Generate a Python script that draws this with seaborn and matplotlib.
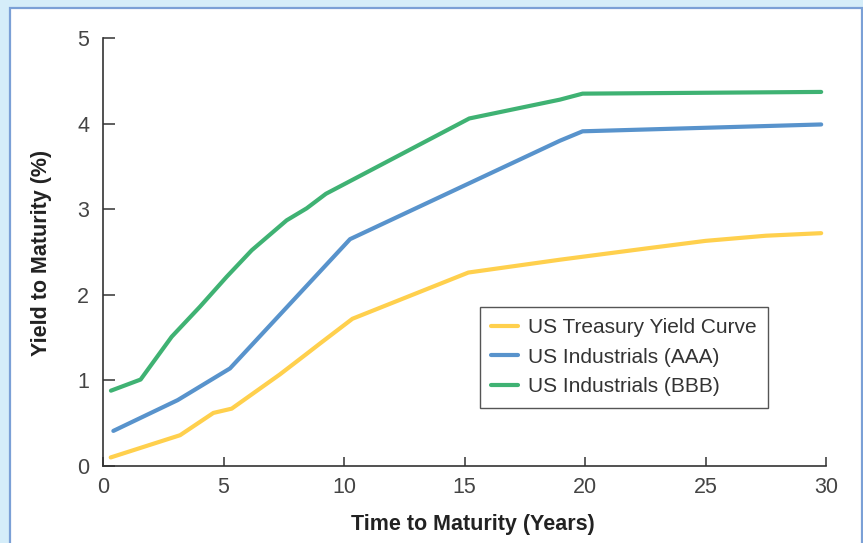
import pandas as pd
import matplotlib.pyplot as plt
import seaborn as sns
from matplotlib.patches import Rectangle

# values
treasury_x = [0.32, 3.2, 4.58, 5.34, 7.34, 8.45, 9.0, 10.35, 15.16, 18.96, 22.5, 25.0, 27.5, 29.8]
treasury_y = [0.10, 0.36, 0.62, 0.67, 1.07, 1.31, 1.43, 1.72, 2.26, 2.41, 2.54, 2.63, 2.69, 2.72]

aaa_x = [0.43, 3.1, 5.27, 10.25, 18.96, 19.9, 29.8]
aaa_y = [0.41, 0.77, 1.14, 2.65, 3.80, 3.91, 3.99]

bbb_x = [0.33, 1.56, 2.85, 4.02, 5.13, 6.17, 7.62, 8.45, 9.25, 15.2, 18.96, 19.9, 29.8]
bbb_y = [0.88, 1.01, 1.51, 1.86, 2.21, 2.52, 2.87, 3.01, 3.18, 4.06, 4.28, 4.35, 4.37]

labels = ['US Treasury Yield Curve', 'US Industrials (AAA)', 'US Industrials (BBB)']
colors = ['#FFD04D', '#5893CC', '#3FB273']

df = pd.concat([
    pd.DataFrame({'years': treasury_x, 'ytm': treasury_y, 'series': labels[0]}),
    pd.DataFrame({'years': aaa_x, 'ytm': aaa_y, 'series': labels[1]}),
    pd.DataFrame({'years': bbb_x, 'ytm': bbb_y, 'series': labels[2]}),
])

sns.set_style('ticks')
plt.rcParams['font.family'] = ['Liberation Sans', 'DejaVu Sans']

fig = plt.figure(figsize=(8.63, 5.43), dpi=100, facecolor='#D5EDF9')
# white panel with blue border, behind everything
fig.patches.append(Rectangle((9.5 / 863, -0.05), 852 / 863, (535.5 / 543) + 0.05,
                             transform=fig.transFigure, facecolor='white',
                             edgecolor='#7BA0D6', linewidth=1.6, zorder=-10))
ax = fig.add_axes([103 / 863, 77 / 543, 723 / 863, 428 / 543])
ax.set_facecolor('none')
ax.set_zorder(5)

sns.lineplot(data=df, x='years', y='ytm', hue='series', hue_order=labels,
             palette=colors, linewidth=3, sort=False, estimator=None, ax=ax)

ax.set_xlim(0, 30)
ax.set_ylim(0, 5)
ax.set_xticks(range(0, 31, 5))
ax.set_yticks(range(0, 6))
sns.despine(ax=ax)
for s in ['left', 'bottom']:
    ax.spines[s].set_color('#333333')
    ax.spines[s].set_linewidth(1.2)
ax.tick_params(axis='y', direction='in', length=8.5, width=1.1, color='#333333',
               labelsize=15.5, labelcolor='#444444', pad=10)
ax.tick_params(axis='x', direction='in', length=6.5, width=1.1, color='#333333',
               labelsize=15.5, labelcolor='#444444', pad=8)

ax.set_xlabel('Time to Maturity (Years)', fontsize=15.5, fontweight='bold', color='#222222')
ax.set_ylabel('Yield to Maturity (%)', fontsize=15.5, fontweight='bold', color='#222222')
ax.xaxis.set_label_coords(0.512, -0.112)
ax.yaxis.set_label_coords(-0.071, 0.497)

leg = ax.legend(loc='upper left', bbox_to_anchor=(0.521, 0.372), fontsize=15,
                frameon=True, fancybox=False, edgecolor='#555555', framealpha=1,
                handlelength=1.3, handletextpad=0.45, labelspacing=0.5,
                borderpad=0.55, borderaxespad=0)
leg.get_frame().set_linewidth(1.0)
for t in leg.get_texts():
    t.set_color('#333333')

fig.savefig('out.png', dpi=100, facecolor=fig.get_facecolor())
